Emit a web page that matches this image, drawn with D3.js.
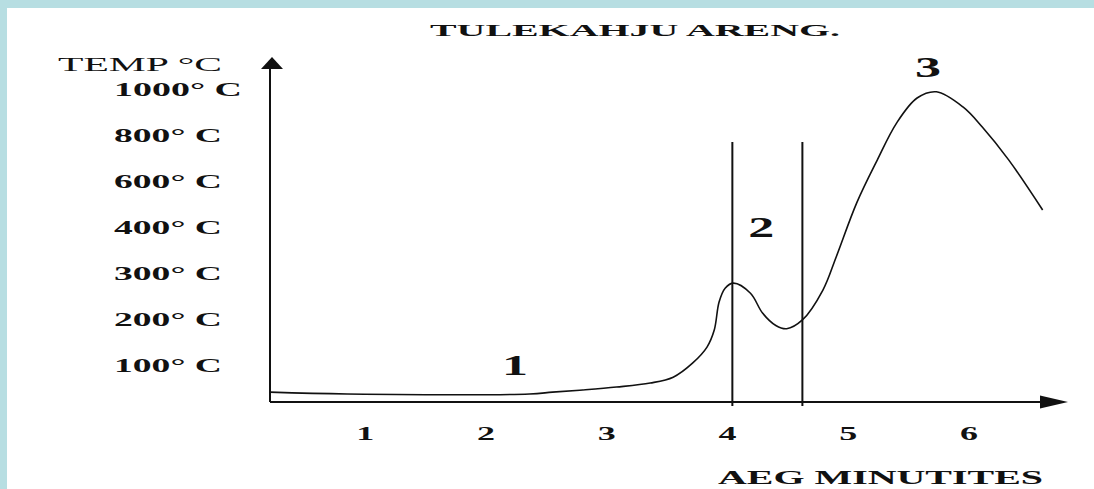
<!DOCTYPE html>
<html>
<head>
<meta charset="utf-8">
<script src="https://cdn.jsdelivr.net/npm/d3@7"></script>
<style>
  body { margin: 0; background: #fff; }
  svg { display: block; }
  text { font-family: "Liberation Serif", "Times New Roman", serif; fill: #111; }
</style>
</head>
<body>
<svg id="chart"></svg>
<script>
// chart data
const title = "TULEKAHJU ARENG.";
const yTitle = "TEMP °C";
const xTitle = "AEG MINUTITES";
const minuteTicks = [1, 2, 3, 4, 5, 6];
const tempTicks = [0, 100, 200, 300, 400, 600, 800, 1000]; // not evenly spaced on the picture
const tempTickLabels = ["100° C", "200° C", "300° C", "400° C", "600° C", "800° C", "1000° C"];

// curve
const curveMinutes = [0.21, 0.85, 2.36, 2.55, 2.80, 3.08, 3.36, 3.55, 3.71, 3.83, 3.89, 3.93, 3.98, 4.05, 4.19, 4.29, 4.40, 4.49, 4.62, 4.79, 4.90, 5.07, 5.24, 5.40, 5.57, 5.73, 5.95, 6.11, 6.33, 6.61];
const curveTemps   = [27,   22,   22,   27,   33,   41,   52,   68,   105,  140,  177,  238,  268,  279,  257,  214,  187,  180,  199,  264,  336,  507,  693,  854,  963,  990,  924,  837,  693,  476];

// phase boundaries and phase labels
const boundaryMinutes = [4.04, 4.62];
const boundaryTop = 772;
const phaseLabels = ["1", "2", "3"];
const phaseMinutes = [2.24, 4.28, 5.66];
const phaseTemps = [74, 380, 1054];

const width = 1094, height = 489;
const axisX = 270, axisY = 402;
const firstTickY = 365.5, tickStep = 46;

const svg = d3.select("#chart").attr("width", width).attr("height", height);

// pale blue frame on top and left
svg.append("rect").attr("width", width).attr("height", height).attr("fill", "#b7dee2");
svg.append("rect").attr("x", 7).attr("y", 8).attr("width", width - 7).attr("height", height - 8).attr("fill", "#fff");

const x = d3.scaleLinear().domain([0, 6]).range([244.6, 969]);
// piecewise scale: labels are evenly spaced although values are not
const y = d3.scaleLinear()
  .domain(tempTicks)
  .range(tempTicks.map((d, i) => i === 0 ? axisY : firstTickY - (i - 1) * tickStep));

// axes
svg.append("line").attr("x1", axisX).attr("x2", axisX).attr("y1", 66).attr("y2", axisY)
  .attr("stroke", "#111").attr("stroke-width", 2);
svg.append("line").attr("x1", axisX).attr("x2", 1045).attr("y1", axisY).attr("y2", axisY)
  .attr("stroke", "#111").attr("stroke-width", 2);
svg.append("path").attr("d", "M272,57 L283,69 L261,69 Z").attr("fill", "#111");
svg.append("path").attr("d", "M1068,402 L1040,395.5 L1040,408.5 Z").attr("fill", "#111");

// titles
svg.append("text").attr("x", 430).attr("y", 36).attr("font-size", 17).attr("font-weight", "bold")
  .attr("textLength", 410).attr("lengthAdjust", "spacingAndGlyphs").text(title);
svg.append("text").attr("x", 58).attr("y", 71).attr("font-size", 18)
  .attr("textLength", 164).attr("lengthAdjust", "spacingAndGlyphs").text(yTitle);
svg.append("text").attr("x", 718).attr("y", 484).attr("font-size", 19).attr("font-weight", "bold")
  .attr("textLength", 325).attr("lengthAdjust", "spacingAndGlyphs").text(xTitle);

// y tick labels
svg.selectAll(".ytick").data(tempTicks.slice(1)).enter().append("text")
  .attr("class", "ytick")
  .attr("x", 114)
  .attr("y", d => y(d) + 6.5)
  .attr("font-size", 19).attr("font-weight", "bold")
  .attr("textLength", (d, i) => tempTickLabels[i].length > 6 ? 128 : 108)
  .attr("lengthAdjust", "spacingAndGlyphs")
  .text((d, i) => tempTickLabels[i]);

// x tick labels
svg.selectAll(".xtick").data(minuteTicks).enter().append("text")
  .attr("class", "xtick")
  .attr("x", d => x(d) - 9)
  .attr("y", 440)
  .attr("font-size", 19).attr("font-weight", "bold")
  .attr("textLength", 18).attr("lengthAdjust", "spacingAndGlyphs")
  .text(d => d);

// phase boundaries
svg.selectAll(".bound").data(boundaryMinutes).enter().append("line")
  .attr("x1", d => x(d)).attr("x2", d => x(d))
  .attr("y1", y(boundaryTop)).attr("y2", axisY + 4)
  .attr("stroke", "#111").attr("stroke-width", 2);

// temperature curve
const pts = curveMinutes.map((m, i) => [m, curveTemps[i]]);
const line = d3.line().x(d => x(d[0])).y(d => y(d[1])).curve(d3.curveCatmullRom.alpha(0.5));
svg.append("path").attr("d", line(pts)).attr("fill", "none")
  .attr("stroke", "#111").attr("stroke-width", 1.6);

// phase numbers
svg.selectAll(".phase").data(phaseLabels).enter().append("text")
  .attr("class", "phase")
  .attr("x", (d, i) => x(phaseMinutes[i]) - 13)
  .attr("y", (d, i) => y(phaseTemps[i]))
  .attr("font-size", 30).attr("font-weight", "bold")
  .attr("textLength", 26).attr("lengthAdjust", "spacingAndGlyphs")
  .text(d => d);
</script>
</body>
</html>
